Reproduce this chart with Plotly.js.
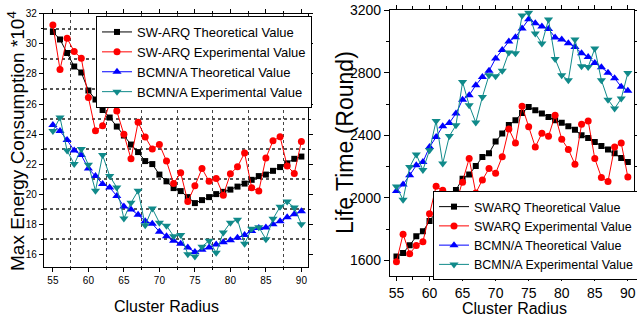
<!DOCTYPE html>
<html><head><meta charset="utf-8">
<script src="https://cdn.plot.ly/plotly-3.0.1.min.js"></script>
<style>html,body{margin:0;padding:0;background:#fff}#c{width:637px;height:317px}</style>
</head><body><div id="c"></div>
<script>
const radius = [55,56,57,58,59,60,61,62,63,64,65,66,67,68,69,70,71,72,73,74,75,76,77,78,79,80,81,82,83,84,85,86,87,88,89,90];

// Left: Max Energy Consumption (*10^4)
const swTheoE = [30.8,30.3,29.4,28.5,28.1,26.9,26.3,25.6,25.1,24.5,23.9,23.3,22.8,22.2,22.0,21.3,20.85,20.4,20.2,19.8,19.4,19.6,19.8,20.0,20.15,20.3,20.5,20.7,20.95,21.2,21.3,21.55,21.8,22.05,22.35,22.5];
const swExpE  = [31.27,28.3,30.38,29.5,29.05,26.44,24.22,24.56,26.09,25.53,23.98,22.35,24.78,23.8,23.0,23.31,22.2,20.7,21.42,19.5,20.55,21.7,20.85,21.04,19.93,21.35,21.82,22.74,20.43,20.2,22.4,23.55,23.82,21.87,21.38,23.5];
const bcTheoE = [24.6,24.2,23.6,22.9,22.6,21.7,21.2,20.67,20.44,19.88,19.18,18.98,18.62,18.2,18.02,17.5,17.2,16.9,16.7,16.45,16.15,16.3,16.45,16.65,16.8,16.93,17.1,17.27,17.55,17.75,17.78,18.0,18.2,18.45,18.65,18.85];
const bcExpE  = [24.2,25.1,22.9,22.0,23.0,21.95,20.22,22.6,21.2,20.44,18.38,19.42,20.22,17.93,19.04,18.1,17.9,17.2,17.27,16.0,15.85,16.5,16.9,16.09,17.45,18.1,18.3,16.7,17.7,17.8,17.0,18.35,19.15,19.5,19.1,18.0];

// Right: Life Time (Round)
const swTheoL = [1625,1648,1697,1754,1786,1852,1909,1965,1990,2050,2123,2150,2204,2261,2285,2360,2411,2466,2496,2543,2581,2560,2539,2517,2496,2481,2458,2436,2400,2383,2357,2332,2310,2285,2255,2230];
const swExpL  = [1592,1768,1643,1696,1720,1899,2074,2048,1918,1963,2100,2251,2031,2115,2187,2157,2263,2440,2351,2586,2455,2325,2413,2394,2528,2375,2310,2215,2470,2492,2251,2131,2105,2325,2351,2133];
const bcTheoL = [2044,2086,2144,2208,2229,2325,2389,2458,2479,2539,2628,2656,2720,2773,2812,2891,2946,3000,3027,3083,3141,3117,3095,3080,3025,3012,2989,2965,2925,2900,2862,2835,2800,2765,2710,2685];
const bcExpL  = [2072,1988,2197,2278,2178,2304,2492,2219,2395,2464,2741,2592,2482,2645,2784,2778,2813,2930,2924,3165,3183,3051,2987,3140,2888,2784,2752,3012,2842,2837,2955,2752,2628,2571,2635,2799];

const namesL = ['SW-ARQ Theoretical Value','SW-ARQ Experimental Value','BCMN/A Theoretical Value','BCMN/A Experimental Value'];
const namesR = ['SWARQ Theoretical Value','SWARQ Experimental Value','BCMN/A Theoretical Value','BCMN/A Experimental Value'];
const xTitle = 'Cluster Radius';
const yTitleL = 'Max Energy Consumption *10<sup>4</sup>';
const yTitleR = 'Life Time (Round)';

const FONT = '"Liberation Sans", Arial, sans-serif';
const styles = [
  {color:'#000000', symbol:'square', size:6},
  {color:'#ff0000', symbol:'circle', size:7},
  {color:'#0000ff', symbol:'triangle-up', size:8},
  {color:'#108a8a', symbol:'triangle-down', size:8}
];
function mk(y, i, name, xa, ya, leg){
  const s = styles[i];
  return {x: radius, y: y, name: name, type:'scatter', mode:'lines+markers', xaxis:xa, yaxis:ya, legend:leg,
    line:{color:s.color, width:1}, marker:{color:s.color, symbol:s.symbol, size:s.size}};
}
const data = [
  mk(swTheoE,0,namesL[0],'x','y','legend'),
  mk(swExpE,1,namesL[1],'x','y','legend'),
  mk(bcTheoE,2,namesL[2],'x','y','legend'),
  mk(bcExpE,3,namesL[3],'x','y','legend'),
  mk(swTheoL,0,namesR[0],'x2','y2','legend2'),
  mk(swExpL,1,namesR[1],'x2','y2','legend2'),
  mk(bcTheoL,2,namesR[2],'x2','y2','legend2'),
  mk(bcExpL,3,namesR[3],'x2','y2','legend2')
];
const axBase = {showline:true, linecolor:'#000', linewidth:1, mirror:'allticks', ticks:'outside', tickcolor:'#000',
  zeroline:false, showgrid:false};
const layout = {
  width:637, height:317, margin:{l:0,r:0,t:0,b:0,autoexpand:false}, paper_bgcolor:'#fff', plot_bgcolor:'#fff',
  font:{family:FONT, color:'#000'},
  xaxis: Object.assign({}, axBase, {domain:[0.069,0.4835], range:[53.74,90.93], tick0:55, dtick:5, ticklen:4,
    tickfont:{size:10}, minor:{dtick:2.5, ticklen:2, tickcolor:'#000', ticks:'outside', showgrid:true, gridcolor:'#444', griddash:'dot', gridwidth:1}, anchor:'y'}),
  yaxis: Object.assign({}, axBase, {domain:[0.158,0.956], range:[15.15,32], tick0:16, dtick:2, ticklen:4,
    tickfont:{size:10}, minor:{dtick:1, ticklen:2, tickcolor:'#000', ticks:'outside', showgrid:true, gridcolor:'#555', griddash:'dot', gridwidth:1.5}, anchor:'x'}),
  xaxis2: Object.assign({}, axBase, {domain:[0.612,0.996], range:[54,91], tick0:55, dtick:5, ticklen:4,
    tickfont:{size:14}, minor:{dtick:2.5, ticklen:3, tickcolor:'#000', ticks:'outside'}, anchor:'y2'}),
  yaxis2: Object.assign({}, axBase, {domain:[0.129,0.968], range:[1500,3200], tick0:1600, dtick:400, ticklen:5,
    tickfont:{size:14}, minor:{dtick:200, ticklen:3, tickcolor:'#000', ticks:'outside'}, anchor:'x2'}),
  legend:{x:96/637, y:(317-16)/317, xanchor:'left', yanchor:'top', bgcolor:'#fff', bordercolor:'#000', borderwidth:1,
    font:{size:13, family:FONT}, tracegroupgap:0, itemwidth:30},
  legend2:{x:433/637, y:(317-191)/317, xanchor:'left', yanchor:'top', bgcolor:'#fff', bordercolor:'#000', borderwidth:1,
    font:{size:12.5, family:FONT}, tracegroupgap:0, itemwidth:30},
  annotations:[
    {text:yTitleL, xref:'paper', yref:'paper', x:16/637, y:(317-141)/317, textangle:-90, showarrow:false, font:{size:19}, xanchor:'center', yanchor:'middle'},
    {text:xTitle, xref:'paper', yref:'paper', x:166/637, y:(317-306)/317, showarrow:false, font:{size:16}, xanchor:'center', yanchor:'middle'},
    {text:yTitleR, xref:'paper', yref:'paper', x:345/637, y:(317-143)/317, textangle:-90, showarrow:false, font:{size:23}, xanchor:'center', yanchor:'middle'},
    {text:xTitle, xref:'paper', yref:'paper', x:514/637, y:(317-308)/317, showarrow:false, font:{size:16}, xanchor:'center', yanchor:'middle'}
  ],
  showlegend:true
};
Plotly.newPlot('c', data, layout, {staticPlot:true, displayModeBar:false});
</script></body></html>
